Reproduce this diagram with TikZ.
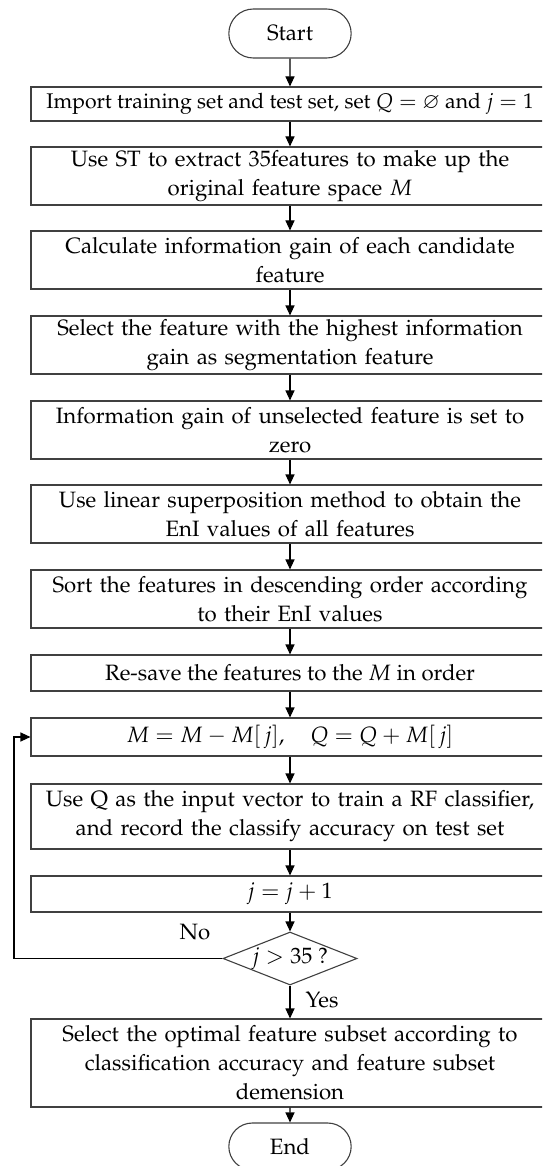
\documentclass[tikz,border=0pt]{standalone}
\usepackage[T1]{fontenc}
\usepackage{mathpazo}
\usepackage{amssymb}
\usetikzlibrary{arrows.meta,shapes.geometric,shapes.misc}

% One text size for the whole chart, with fixed math spacing so centred
% lines do not stretch the glue around = and +.
\newcommand{\chartfont}{\fontsize{22.2}{29}\selectfont
  \thickmuskip=5mu\medmuskip=4mu\thinmuskip=3mu}
\newcommand{\widefont}{\fontsize{21.2}{29}\selectfont
  \thickmuskip=5mu\medmuskip=4mu\thinmuskip=3mu}

\tikzset{
  every picture/.style={line width=1.1pt},
  linebox/.style={draw=black!75, rectangle, minimum width=518pt,
    align=center, inner sep=0pt, font=\chartfont},
  procbox/.style={linebox, text width=508pt},
  termbox/.style={draw=black!75, rounded rectangle, minimum width=129pt,
    font=\chartfont},
  decbox/.style={draw=black!75, diamond, aspect=2.53, minimum width=134pt, minimum height=53pt,
    inner sep=0pt, font=\chartfont},
  flow/.style={draw=black, -{Triangle[length=10pt,width=9pt]}},
  lbl/.style={font=\chartfont, inner sep=0pt}
}

\begin{document}
\begin{tikzpicture}[x=1pt,y=-1pt]
  \useasboundingbox (0,0) rectangle (542,1166);
  \clip (0,0) rectangle (542,1166);

  \node[termbox, minimum height=49pt] (start) at (290,33.5) {Start};
  \node[linebox, minimum height=34pt, font=\widefont] (b1) at (290,104)
    {Import training set and test set, set $Q=\varnothing$ and $j=1$};
  \node[procbox, minimum height=58pt] (b2) at (290,176)
    {Use ST to extract 35features to make up the\\ original feature space $M$};
  \node[procbox, minimum height=58pt] (b3) at (290,260)
    {Calculate information gain of each candidate\\ feature};
  \node[procbox, minimum height=58pt] (b4) at (290,345)
    {Select the feature with the highest information\\ gain as segmentation feature};
  \node[procbox, minimum height=58pt] (b5) at (290,430)
    {Information gain of unselected feature is set to\\ zero};
  \node[procbox, minimum height=58pt] (b6) at (290,514)
    {Use linear superposition method to obtain the\\ EnI values of all features};
  \node[procbox, minimum height=58pt] (b7) at (290,599)
    {Sort the features in descending order according\\ to their EnI values};
  \node[linebox, minimum height=36pt] (b8) at (290,673)
    {Re-save the features to the $M$ in order};
  \node[linebox, minimum height=38pt] (b9) at (290,737)
    {$M = M - M[\,j],\quad Q = Q + M[\,j]$};
  \node[procbox, minimum height=65pt] (b10) at (290,816.5)
    {Use Q as the input vector to train a RF classifier,\\ and record the classify accuracy on test set};
  \node[linebox, minimum height=36pt] (b11) at (290,894)
    {$j = j + 1$};
  \node[decbox] (dec) at (290,958.5) {$j > 35$ ?};
  \node[procbox, minimum height=88pt] (b12) at (290,1063)
    {Select the optimal feature subset according to\\ classification accuracy and feature subset\\ demension};
  \node[termbox, minimum height=47pt] (end) at (290,1146.5) {End};

  \draw[flow] (start) -- (b1);
  \draw[flow] (b1) -- (b2);
  \draw[flow] (b2) -- (b3);
  \draw[flow] (b3) -- (b4);
  \draw[flow] (b4) -- (b5);
  \draw[flow] (b5) -- (b6);
  \draw[flow] (b6) -- (b7);
  \draw[flow] (b7) -- (b8);
  \draw[flow] (b8) -- (b9);
  \draw[flow] (b9) -- (b10);
  \draw[flow] (b10) -- (b11);
  \draw[flow] (b11) -- (dec);
  \draw[flow] (dec) -- (b12);
  \draw[flow] (b12) -- (end);

  % return branch of the loop
  \coordinate (loopbot) at (14,958.5);
  \coordinate (looptop) at (14,737);
  \draw[flow] (dec.west) -- (loopbot) -- (looptop) -- (b9.west);

  \node[lbl] (no) at (195,932) {No};
  \node[lbl] (yes) at (322,1000) {Yes};
\end{tikzpicture}
\end{document}
